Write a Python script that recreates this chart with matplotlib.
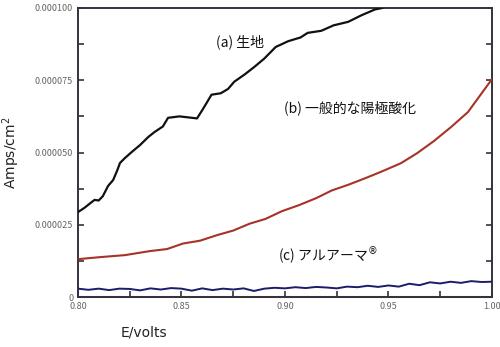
import matplotlib
matplotlib.use("Agg")
import matplotlib.pyplot as plt
from matplotlib.ticker import MultipleLocator, FixedFormatter, FixedLocator

plt.rcParams['font.family'] = ['Noto Sans CJK JP', 'DejaVu Sans']

# (a) bare metal
a_E = [0.800, 0.803, 0.806, 0.808, 0.810, 0.812, 0.8145, 0.817, 0.819, 0.8203, 0.8227,
       0.826, 0.830, 0.834, 0.837, 0.841, 0.8435, 0.849, 0.8575, 0.8605, 0.8645, 0.869,
       0.8725, 0.8755, 0.8805, 0.885, 0.890, 0.8955, 0.9015, 0.9075, 0.911, 0.9175,
       0.9235, 0.9305, 0.937, 0.9435, 0.947]
a_v = [2.94e-5, 3.08e-5, 3.25e-5, 3.36e-5, 3.34e-5, 3.49e-5, 3.84e-5, 4.05e-5, 4.39e-5,
       4.64e-5, 4.81e-5, 5.02e-5, 5.26e-5, 5.54e-5, 5.71e-5, 5.90e-5, 6.20e-5, 6.25e-5,
       6.18e-5, 6.52e-5, 7.00e-5, 7.05e-5, 7.20e-5, 7.45e-5, 7.70e-5, 7.95e-5, 8.25e-5,
       8.65e-5, 8.85e-5, 8.98e-5, 9.14e-5, 9.21e-5, 9.40e-5, 9.52e-5, 9.75e-5, 9.95e-5,
       1.0e-4]

# (b) conventional anodizing
b_E = [0.800, 0.8106, 0.8227, 0.8348, 0.8430, 0.8507, 0.8590, 0.8671, 0.8750, 0.8830,
       0.8905, 0.8985, 0.9068, 0.9150, 0.9227, 0.9308, 0.9391, 0.9473, 0.9560, 0.9639,
       0.9720, 0.9802, 0.9884, 1.000]
b_v = [1.31e-5, 1.38e-5, 1.45e-5, 1.59e-5, 1.66e-5, 1.85e-5, 1.95e-5, 2.14e-5, 2.30e-5,
       2.54e-5, 2.70e-5, 2.97e-5, 3.18e-5, 3.42e-5, 3.69e-5, 3.89e-5, 4.12e-5, 4.36e-5,
       4.63e-5, 4.98e-5, 5.40e-5, 5.88e-5, 6.40e-5, 7.54e-5]

# (c) Alumarmor
c_E = [0.800, 0.805, 0.810, 0.815, 0.820, 0.825, 0.830, 0.835, 0.840, 0.845, 0.850,
       0.855, 0.860, 0.865, 0.870, 0.875, 0.880, 0.885, 0.890, 0.895, 0.900, 0.905,
       0.910, 0.915, 0.920, 0.925, 0.930, 0.935, 0.940, 0.945, 0.950, 0.955, 0.960,
       0.965, 0.970, 0.975, 0.980, 0.985, 0.990, 0.995, 1.000]
c_v = [2.9e-6, 2.5e-6, 2.9e-6, 2.4e-6, 2.9e-6, 2.8e-6, 2.3e-6, 3.0e-6, 2.6e-6, 3.1e-6,
       2.9e-6, 2.2e-6, 3.0e-6, 2.4e-6, 2.9e-6, 2.6e-6, 3.0e-6, 2.1e-6, 2.9e-6, 3.2e-6,
       3.0e-6, 3.4e-6, 3.1e-6, 3.5e-6, 3.3e-6, 3.0e-6, 3.6e-6, 3.4e-6, 3.9e-6, 3.5e-6,
       4.0e-6, 3.6e-6, 4.6e-6, 4.1e-6, 5.1e-6, 4.7e-6, 5.3e-6, 4.9e-6, 5.5e-6, 5.2e-6,
       5.3e-6]

baseline_E = [0.80, 1.00]
baseline_v = [0.0, 0.0]

x_ticks = [0.80, 0.85, 0.90, 0.95, 1.00]
x_labels = ['0.80', '0.85', '0.90', '0.95', '1.00']
y_ticks = [0, 0.000025, 0.00005, 0.000075, 0.0001]
y_labels = ['0', '0.000025', '0.000050', '0.000075', '0.000100']

fig = plt.figure(figsize=(5.0, 3.47), dpi=100)
ax = fig.add_axes([0.156, 0.144, 0.828, 0.833])

ax.plot(baseline_E, baseline_v, color='#b09a3c', lw=1.5, clip_on=False, zorder=1)
ax.plot(a_E, a_v, color='#111111', lw=1.6, zorder=3)
ax.plot(b_E, b_v, color='#a83228', lw=1.5, zorder=3)
ax.plot(c_E, c_v, color='#1c1c6a', lw=1.4, zorder=3)

ax.set_xlim(0.80, 1.00)
ax.set_ylim(0, 0.0001)
ax.xaxis.set_major_locator(FixedLocator(x_ticks))
ax.xaxis.set_major_formatter(FixedFormatter(x_labels))
ax.yaxis.set_major_locator(FixedLocator(y_ticks))
ax.yaxis.set_major_formatter(FixedFormatter(y_labels))
ax.xaxis.set_minor_locator(MultipleLocator(0.025))
ax.yaxis.set_minor_locator(MultipleLocator(0.0000125))
ax.tick_params(which='both', direction='in', colors='#333333', labelcolor='#666666',
               labelsize=6.5, right=True, top=False, width=1.2)
ax.tick_params(which='major', length=4)
ax.tick_params(which='minor', length=4)
for s in ax.spines.values():
    s.set_color('#333340')
    s.set_linewidth(1.4)

ax.set_ylabel('Amps/cm$^2$', fontsize=10, color='#222222', family=['DejaVu Sans'])
ax.yaxis.set_label_coords(-0.135, 0.5)
ax.set_xlabel('E/volts', fontsize=10, color='#222222', family=['DejaVu Sans'])
ax.xaxis.set_label_coords(0.16, -0.1)

ax.text(0.8785, 0.0000882, '(a) 生地', fontsize=10, ha='center', va='center', color='#111111')
ax.text(0.9315, 0.0000654, '(b) 一般的な陽極酸化', fontsize=10, ha='center', va='center', color='#111111')
ax.text(0.9205, 0.0000142, '(c) アルアーマ$^{®}$', fontsize=10, ha='center', va='center', color='#111111')

fig.savefig('out.png', dpi=100)
